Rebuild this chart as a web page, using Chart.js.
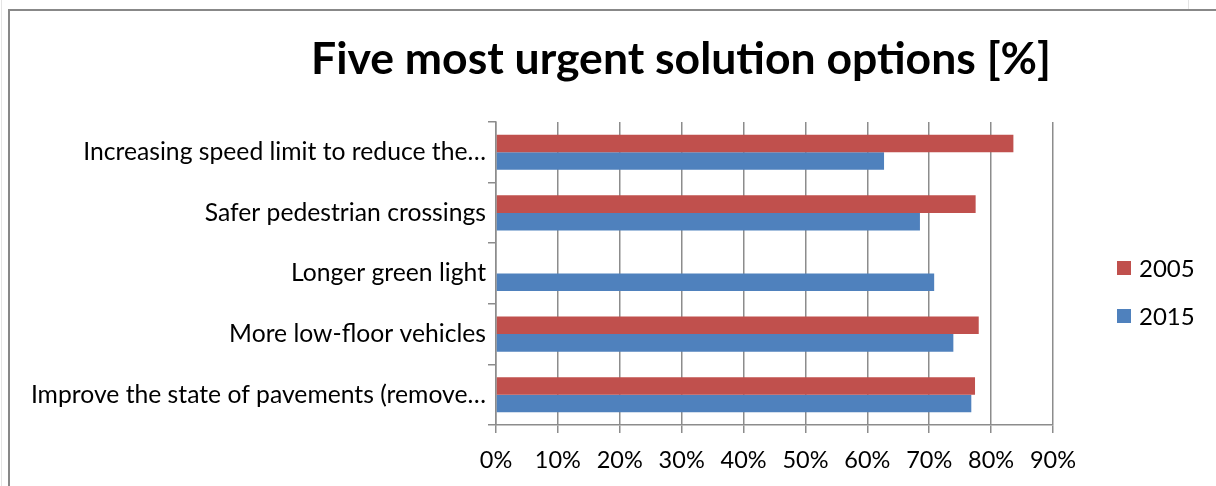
<!DOCTYPE html>
<html>
<head>
<meta charset="utf-8">
<script src="https://cdn.jsdelivr.net/npm/chart.js@4.4.1/dist/chart.umd.min.js"></script>
<style>
  html, body { margin: 0; padding: 0; background: #fff; }
  #wrap { position: relative; width: 1216px; height: 486px; overflow: hidden; }
  #frame { position: absolute; left: 8px; top: 9px; width: 1300px; height: 600px; border-left: 2px solid #888; border-top: 2px solid #888; }
  #edgeL { position: absolute; left: 1px; top: 0; width: 1px; height: 486px; background: #e4e4e4; }
  #edgeT { position: absolute; left: 1188px; top: 0; width: 1px; height: 9px; background: #e4e4e4; }
  canvas { position: absolute; left: 0; top: 0; }
</style>
</head>
<body>
<div id="wrap">
  <div id="edgeL"></div>
  <div id="edgeT"></div>
  <div id="frame"></div>
  <canvas id="grafik" width="1216" height="486"></canvas>
</div>
<script>
// data
const kategori = [
  "Increasing speed limit to reduce the…",
  "Safer pedestrian crossings",
  "Longer green light",
  "More low-floor vehicles",
  "Improve the state of pavements (remove…"
];
const nilai2005 = [83.6, 77.5, null, 78.0, 77.4];
const nilai2015 = [62.7, 68.5, 70.8, 73.9, 76.8];
const tickPersen = [0, 10, 20, 30, 40, 50, 60, 70, 80, 90];
const judul = "Five most urgent solution options [%]";

const FONT = "Lato, 'Open Sans', sans-serif";

// judul + legenda digambar manual biar posisinya pas
const pluginJudul = {
  id: 'judulManual',
  afterDraw(chart) {
    const ctx = chart.ctx;
    ctx.save();
    ctx.fillStyle = '#000';
    ctx.font = "bold 44.5px " + FONT;
    ctx.textAlign = 'center';
    ctx.textBaseline = 'middle';
    ctx.fillText(judul, 681, 60);

    ctx.font = "24px " + FONT;
    ctx.textAlign = 'left';
    let cy = 268;
    chart.data.datasets.forEach(ds => {
      ctx.fillStyle = ds.backgroundColor;
      ctx.fillRect(1117, cy - 7, 14, 14);
      ctx.fillStyle = '#000';
      ctx.fillText(ds.label, 1139, cy + 1);
      cy += 48;
    });
    ctx.restore();
  }
};

Chart.defaults.font.family = FONT;
Chart.defaults.color = '#000';

new Chart(document.getElementById('grafik').getContext('2d'), {
  type: 'bar',
  data: {
    labels: kategori,
    datasets: [
      { label: '2005', data: nilai2005, backgroundColor: '#C0504D' },
      { label: '2015', data: nilai2015, backgroundColor: '#4F81BD' }
    ]
  },
  options: {
    indexAxis: 'y',
    responsive: false,
    animation: false,
    devicePixelRatio: 1,
    layout: { padding: { left: 8, top: 122, right: 163, bottom: 0 } },
    datasets: { bar: { categoryPercentage: 0.58, barPercentage: 1.0 } },
    plugins: {
      legend: { display: false },
      title: { display: false },
      tooltip: { enabled: false }
    },
    scales: {
      x: {
        min: 0, max: 90,
        afterBuildTicks: s => { s.ticks = tickPersen.map(v => ({ value: v })); },
        afterFit: s => { s.height = 61; },
        ticks: { callback: v => v + '%', font: { size: 23.5 }, padding: 13, maxRotation: 0, autoSkip: false },
        grid: { color: '#8c8c8c', lineWidth: 1.5, tickLength: 8 },
        border: { color: '#8c8c8c', width: 1.5 }
      },
      y: {
        afterFit: s => { s.width = 488; },
        ticks: { font: { size: 24.7 }, padding: 2, autoSkip: false },
        grid: { drawOnChartArea: false, color: '#8c8c8c', lineWidth: 1.5, tickLength: 8 },
        border: { color: '#8c8c8c', width: 1.5 }
      }
    }
  },
  plugins: [pluginJudul]
});
</script>
</body>
</html>
